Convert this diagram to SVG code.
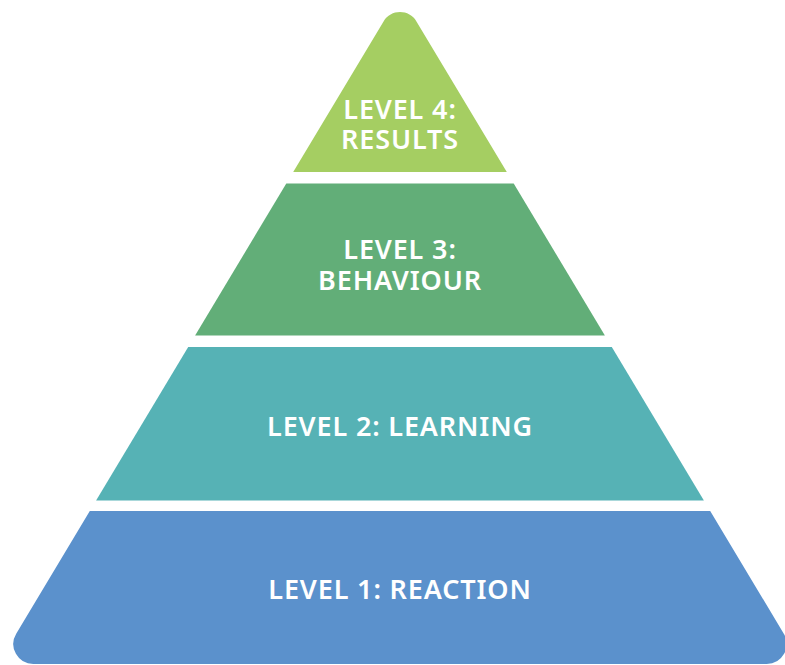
<svg xmlns="http://www.w3.org/2000/svg" width="785" height="665" viewBox="0 0 785 665">
<style>
.lbl{font-family:"Noto Sans","Open Sans","Liberation Sans",sans-serif;font-weight:600;font-size:27px;fill:#ffffff;text-anchor:middle;letter-spacing:0.85px}
</style>
<rect width="785" height="665" fill="#ffffff"/>
<g id="level4">
<path d="M293.2,172 L383.7,21.2 A19,19 0 0 1 416.3,21.2 L506.8,172 Z" fill="#a5ce62"/>
<text class="lbl"><tspan x="400" y="119">LEVEL 4:</tspan><tspan x="400" y="149">RESULTS</tspan></text>
</g>
<g id="level3">
<path d="M286.3,183.5 L513.7,183.5 L604.9,335.5 L195.1,335.5 Z" fill="#62ae78"/>
<text class="lbl"><tspan x="400" y="258.5">LEVEL 3:</tspan><tspan x="400" y="289.5">BEHAVIOUR</tspan></text>
</g>
<g id="level2">
<path d="M188.2,347 L611.8,347 L703.9,500.5 L96.1,500.5 Z" fill="#56b2b5"/>
<text class="lbl" x="400" y="435.7">LEVEL 2: LEARNING</text>
</g>
<g id="level1">
<path d="M89.8,511 L710.2,511 L783.8,633.7 A20,20 0 0 1 766.7,664 L33.3,664 A20,20 0 0 1 16.2,633.7 Z" fill="#5b91cc"/>
<text class="lbl" x="400" y="599">LEVEL 1: REACTION</text>
</g>
<g id="connectors"></g>
</svg>
